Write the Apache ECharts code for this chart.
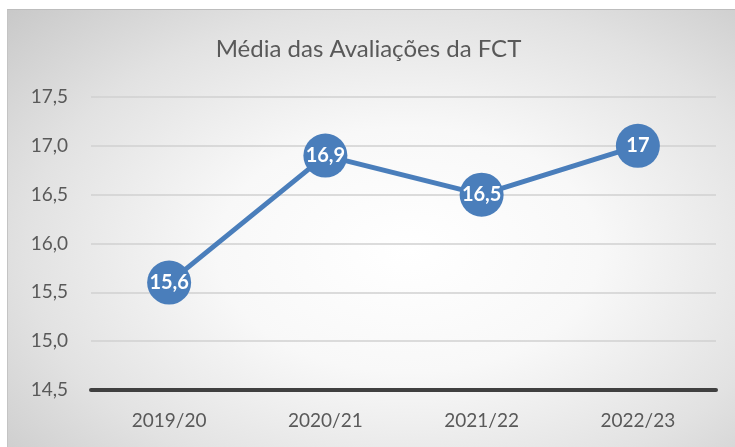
<!DOCTYPE html>
<html>
<head>
<meta charset="utf-8">
<script src="https://cdn.jsdelivr.net/npm/echarts@6/dist/echarts.min.js"></script>
<style>
html, body { margin: 0; padding: 0; background: #fff; }
#wrap {
    position: absolute; left: 7px; top: 9px; width: 728px; height: 438px;
    border-top: 1px solid #bdbdbd; border-left: 1px solid #c4c4c4;
    box-sizing: border-box;
    background: radial-gradient(ellipse 75% 80% at 55% 55%, #ffffff 0%, #f8f8f8 35%, #e2e2e2 70%, #c9c9c9 100%);
}
#chart { position: absolute; left: -7px; top: -9px; width: 735px; height: 447px; }
</style>
</head>
<body>
<div id="wrap"><div id="chart"></div></div>
<script>
// dados do gráfico
var anos = ['2019/20', '2020/21', '2021/22', '2022/23'];
var medias = [15.6, 16.9, 16.5, 17];
var titulo = 'Média das Avaliações da FCT';

var chart = echarts.init(document.getElementById('chart'));
var fmt = function (v) { return String(v).replace('.', ','); };

var option = {
    backgroundColor: 'transparent',
    title: {
        text: titulo,
        left: 'center',
        top: 31,
        textStyle: { fontFamily: 'Lato', fontWeight: 'normal', fontSize: 24, color: '#595959' }
    },
    grid: { left: 90, right: 20, top: 96, bottom: 58 },
    xAxis: {
        type: 'category',
        data: anos,
        boundaryGap: true,
        axisTick: { show: false },
        axisLine: { lineStyle: { color: '#404040', width: 4 } },
        axisLabel: { margin: 21, fontFamily: 'Lato', fontSize: 19, color: '#595959' }
    },
    yAxis: {
        type: 'value',
        min: 14.5,
        max: 17.5,
        interval: 0.5,
        axisLine: { show: false },
        axisTick: { show: false },
        splitLine: { lineStyle: { color: '#d0d0d0', width: 1.5 } },
        axisLabel: {
            margin: 23,
            fontFamily: 'Lato', fontSize: 19, color: '#595959',
            formatter: function (v) { return v.toFixed(1).replace('.', ','); }
        }
    },
    series: [{
        type: 'line',
        data: medias,
        symbol: 'circle',
        symbolSize: 44,
        lineStyle: { color: '#4a7ebb', width: 5 },
        itemStyle: { color: '#4a7ebb' },
        label: {
            show: true,
            position: 'inside',
            formatter: function (p) { return fmt(p.value); },
            color: '#ffffff',
            fontFamily: 'Lato',
            fontWeight: 'bold',
            fontSize: 20
        },
        z: 3
    }]
};
chart.setOption(option);
</script>
</body>
</html>
